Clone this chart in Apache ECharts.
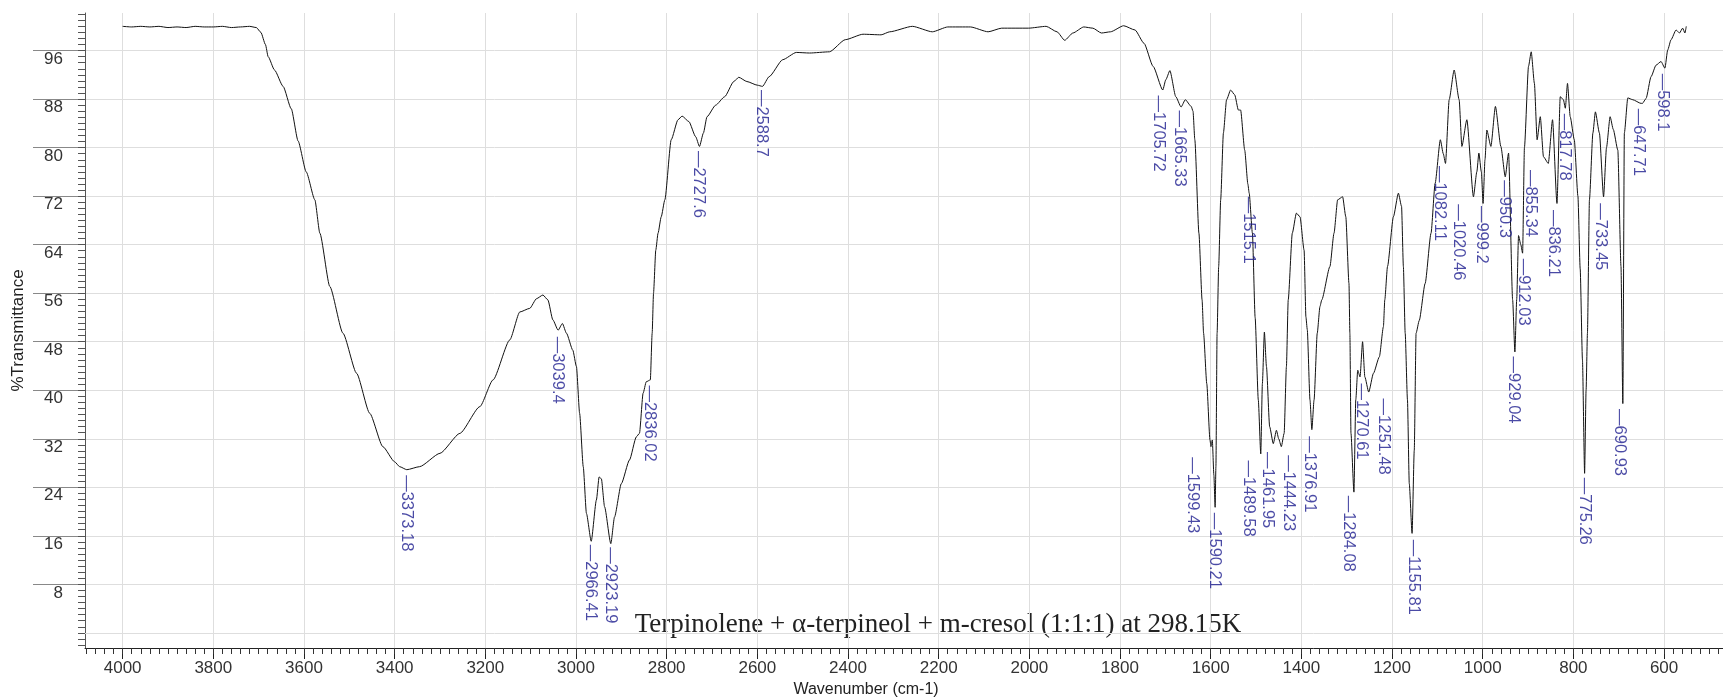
<!DOCTYPE html>
<html><head><meta charset="utf-8">
<script src="https://cdn.jsdelivr.net/npm/echarts@6/dist/echarts.min.js"></script>
<style>html,body{margin:0;padding:0;background:#fff}#c{width:1723px;height:700px}</style>
</head><body><div id="c"></div>
<script>
// ---- spectrum (wavenumber cm-1, %T) ----
const wavenumbers = [4000,3980,3960,3940,3920,3900,3880,3860,3840,3820,3800,3780,3760,3740,3720,3705,3695,3685,3679,3665,3646,3628,3613,3595,3576,3565,3543,3514,3484,3455,3426,3400,3389,3373.18,3345,3300,3256,3212,3183,3146,3124,3102,3087,3073,3062,3051,3039.4,3030,3021,3007,2999,2992,2984,2977,2966.41,2955,2949,2944,2937,2923.19,2915,2900,2882,2867,2860,2852,2845,2836.02,2832,2829,2824,2819,2812,2804,2790,2775,2766,2751,2736,2727.6,2719,2711,2692,2672,2652,2641,2623,2600,2588.7,2574,2544,2514,2485,2441,2406,2367,2327,2308,2258,2214,2180,2130,2091,2061,2002,1963,1939,1922,1904,1880,1860,1841,1821,1792,1767,1747,1727,1705.72,1699,1690,1677,1665.33,1656,1643,1639,1635,1626,1619,1615.7,1608.7,1601.6,1599.43,1596.4,1593,1590.21,1588.5,1585.9,1582.4,1578,1572,1565,1556,1547,1539,1534,1525,1518,1515.1,1508,1502,1495,1489.58,1486,1481.6,1477,1470,1461.95,1455,1450,1444.23,1438,1433,1429,1420,1411,1403,1394,1390,1387,1381,1376.91,1372,1365,1359,1355,1337,1328,1320,1309,1302,1295,1293,1290.6,1284.08,1280,1275.7,1270.61,1265,1260,1251.48,1241,1228,1219,1216,1210,1197,1186,1179,1175,1171,1166,1162,1155.81,1151,1147,1140,1127,1114,1105,1093.5,1087,1082.11,1074,1063,1052,1046,1035,1020.46,1013,1008.5,1003,999.2,995,991,982,972,960,950.3,943,934,929.04,925,921,916,912.03,908,899,893,886,880,873,866,855.34,846,836.21,829,822,817.78,813,807,798,790,785,780,775.26,772,769,764.6,757,751.5,742.6,733.45,727,719,712,702,695,690.93,687.6,680,669,650.9,647.71,639.7,628.7,617.7,606.7,598.1,592,584.6,573.5,566,559,554,551];
const transmittance = [100.0,99.9,100.0,99.9,100.0,99.8,99.9,99.8,100.0,99.9,99.9,100.0,99.8,99.9,100.0,99.8,99.0,97.0,95.0,92.8,90.1,86.4,81.1,76.0,71.4,65.9,57.1,49.4,42.8,36.2,30.7,28.2,27.4,26.9,27.4,29.6,32.9,37.3,41.7,48.3,52.9,53.5,55.1,55.7,54.9,51.6,49.9,51.0,49.4,46.6,43.9,36.2,27.4,19.7,15.1,21.9,25.7,25.4,20.8,14.7,19.1,24.6,28.5,32.3,32.9,39.5,41.4,41.7,49.4,56.0,63.1,65.9,68.6,71.4,81.3,84.6,85.2,84.3,81.8,80.2,82.4,85.1,87.0,88.4,90.9,91.6,90.9,90.3,90.1,91.7,94.5,95.7,95.6,95.8,97.8,98.7,98.6,99.1,100.0,99.1,99.9,99.9,99.1,99.7,99.7,100.0,99.1,97.7,98.9,99.9,99.7,98.9,99.1,100.1,99.4,97.2,93.4,89.5,91.2,92.7,88.4,86.7,87.9,86.8,86.0,81.3,65.9,54.9,49.4,41.1,31.8,30.7,31.8,26.0,20.7,27.4,49.4,60.4,71.4,82.4,87.9,89.5,88.7,86.2,86.2,79.6,74.0,72.5,65.9,52.0,38.4,29.5,41.1,49.6,43.9,34.0,31.2,33.4,32.0,30.7,32.9,43.9,54.9,65.9,69.2,68.6,63.1,52.1,50.0,38.4,33.5,38.4,49.4,53.8,54.9,60.4,65.9,71.4,71.9,68.6,57.6,49.4,32.9,23.2,38.4,43.3,42.2,48.0,42.2,39.7,42.8,45.5,50.5,54.9,60.4,68.6,72.5,70.3,60.4,49.4,38.4,24.6,16.4,30.1,49.4,51.5,57.6,65.9,74.1,81.3,79.0,77.4,87.9,92.8,87.9,80.2,84.6,71.9,76.0,79.1,76.0,70.8,78.0,82.9,80.2,86.8,80.2,75.2,79.1,54.9,46.3,55.0,65.5,64.0,62.6,80.0,93.4,95.8,90.6,81.3,85.1,78.5,77.4,84.6,70.8,88.4,87.9,86.5,90.6,85.1,81.3,72.0,60.0,45.0,26.3,40.0,49.4,71.4,82.4,85.9,82.4,71.9,80.0,85.1,83.0,79.6,60.4,37.8,82.4,88.2,87.9,87.3,87.3,88.1,91.7,93.6,94.2,93.1,96.1,97.8,99.4,98.9,99.7,98.9,100.0];

// ---- labelled peaks ----
const peakWavenumbers = [3373.18,3039.4,2966.41,2923.19,2836.02,2727.6,2588.7,1705.72,1665.33,1599.43,1590.21,1515.1,1489.58,1461.95,1444.23,1376.91,1284.08,1270.61,1251.48,1155.81,1082.11,1020.46,999.2,950.3,929.04,912.03,855.34,836.21,817.78,775.26,733.45,690.93,647.71,598.1];
const peakTransmittance = [26.9,49.9,15.1,14.7,41.7,80.2,90.1,89.5,86.7,30.7,20.7,72.5,29.5,31.2,30.7,33.5,23.2,42.2,39.7,16.4,77.4,71.9,70.8,75.2,46.3,62.6,77.4,70.8,86.5,26.3,71.9,37.8,87.3,93.1];

// ---- axis tick labels ----
const xTickLabels = [4000,3800,3600,3400,3200,3000,2800,2600,2400,2200,2000,1800,1600,1400,1200,1000,800,600];
const yTickLabels = [8,16,24,32,40,48,56,64,72,80,88,96];

const chartTitle = 'Terpinolene + α-terpineol + m-cresol (1:1:1) at 298.15K';
const xAxisTitle = 'Wavenumber (cm-1)';
const yAxisTitle = '%Transmittance';

// ---- layout only: pixel offsets of each peak label from its peak ----
const peakLabelOffsets = [[0,6],[0,7],[0,4],[0,4],[0,6],[0,5],[0,4],[-4,6],[-1,4],[-18,11],[0,6],[0,4],[-12,7],[-5,9],[8,9],[-2,7],[-5,4],[2,7],[15,7],[2,7],[-5,3],[-14,8],[-1,3],[0,4],[-1,5],[1,6],[-17,7],[-3,7],[0,6],[0,5],[-3,7],[-3,6],[-3,6],[-2,6]];

const X_MIN = 470, X_MAX = 4083, Y_MIN = -2.5, Y_MAX = 102.2;
const minorX = []; for (let v = 480; v <= 4080; v += 20) minorX.push(v);
const minorY = []; for (let v = -2; v <= 102; v += 1) minorY.push(v);
const sans = 'Liberation Sans, Arial, sans-serif';

const chart = echarts.init(document.getElementById('c'));
chart.setOption({
  animation: false,
  grid: { left: 85, right: 0, top: 13, bottom: 52 },
  xAxis: [
    { type: 'value', inverse: true, min: X_MIN, max: X_MAX,
      axisLine: { show: true, onZero: false, lineStyle: { color: '#222', width: 1 } },
      axisTick: { show: true, customValues: xTickLabels, length: 11, lineStyle: { color: '#222' } },
      axisLabel: { customValues: xTickLabels, margin: 12, fontSize: 17, color: '#333', fontFamily: sans,
        formatter: v => String(v) },
      splitLine: { show: true, lineStyle: { color: '#dedede', width: 1 } } },
    { type: 'value', inverse: true, min: X_MIN, max: X_MAX, position: 'bottom',
      axisLine: { show: false, onZero: false },
      axisTick: { show: true, customValues: minorX, length: 6, lineStyle: { color: '#333' } },
      axisLabel: { show: false }, splitLine: { show: false } }
  ],
  yAxis: [
    { type: 'value', min: Y_MIN, max: Y_MAX,
      name: yAxisTitle, nameLocation: 'middle', nameGap: 58,
      nameTextStyle: { fontSize: 17, color: '#222', fontFamily: sans },
      axisLine: { show: true, onZero: false, lineStyle: { color: '#555' } },
      axisTick: { show: true, customValues: yTickLabels, length: 52, lineStyle: { color: '#888' } },
      axisLabel: { customValues: yTickLabels, verticalAlign: 'top', margin: 22, fontSize: 17, color: '#333', fontFamily: sans },
      splitLine: { show: true, lineStyle: { color: '#dedede', width: 1 } } },
    { type: 'value', min: Y_MIN, max: Y_MAX, position: 'left',
      axisLine: { show: false, onZero: false },
      axisTick: { show: true, customValues: minorY, length: 7, lineStyle: { color: '#555' } },
      axisLabel: { show: false }, splitLine: { show: false } }
  ],
  graphic: [
    { type: 'text', x: 938, y: 625, style: { text: chartTitle, font: '27px "Liberation Serif", "Times New Roman", serif', fill: '#222', textAlign: 'center', textVerticalAlign: 'middle' } },
    { type: 'text', x: 866, y: 690, style: { text: xAxisTitle, font: '16px "Liberation Sans", Arial, sans-serif', fill: '#222', textAlign: 'center', textVerticalAlign: 'middle' } }
  ],
  series: [
    { type: 'line', xAxisIndex: 0, yAxisIndex: 0,
      data: wavenumbers.map((w, i) => [w, transmittance[i]]),
      symbol: 'none', smooth: 0.2, smoothMonotone: 'x',
      lineStyle: { color: '#111', width: 1 }, z: 3,
      markLine: { silent: true, symbol: 'none', label: { show: false },
        lineStyle: { color: '#dedede', width: 1, type: 'solid' },
        data: [{ yAxis: 0 }] } },
    { type: 'scatter', xAxisIndex: 0, yAxisIndex: 0, symbolSize: 1,
      itemStyle: { color: 'rgba(0,0,0,0)' },
      data: peakWavenumbers.map((w, i) => ({ value: [w, peakTransmittance[i]],
        label: { position: peakLabelOffsets[i] } })),
      label: { show: true, rotate: -90, align: 'left', verticalAlign: 'middle',
        fontSize: 16.5, color: '#1d1d8f', fontFamily: sans,
        formatter: p => '—' + String(peakWavenumbers[p.dataIndex]) },
      z: 4 }
  ]
});
</script>
</body></html>
